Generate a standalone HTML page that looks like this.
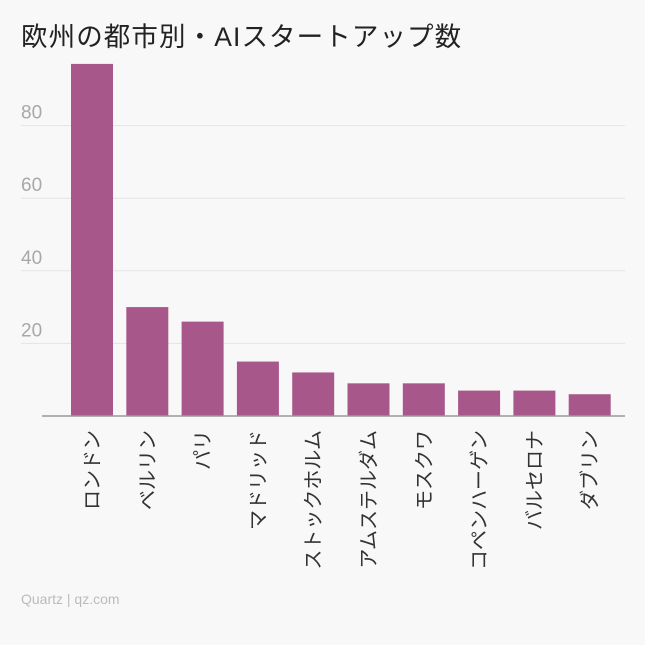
<!DOCTYPE html>
<html><head><meta charset="utf-8"><style>
body{margin:0;background:#f8f8f8;}
svg{display:block;font-family:"Liberation Sans","Noto Sans CJK JP",sans-serif;}
</style></head><body>
<svg width="645" height="645">
<rect width="645" height="645" fill="#f8f8f8"/>
<text x="21" y="46" font-size="26.5" letter-spacing="1.1" fill="#222">欧州の都市別・AIスタートアップ数</text>
<g id="grid"></g><g id="bars"></g><g id="labels"></g>
<line x1="42" y1="416" x2="625" y2="416" stroke="#999" stroke-width="1.5"/>
<text x="21" y="604" font-size="14" fill="#bbb">Quartz | qz.com</text>
</svg>
<script>
const categories=["ロンドン","ベルリン","パリ","マドリッド","ストックホルム","アムステルダム","モスクワ","コペンハーゲン","バルセロナ","ダブリン"];
const values=[97,30,26,15,12,9,9,7,7,6];
const ticks=[20,40,60,80];
const NS="http://www.w3.org/2000/svg";
const y=v=>416-v*3.63;
const x=i=>71+i*55.3;
const grid=document.getElementById('grid'),bars=document.getElementById('bars'),labels=document.getElementById('labels');
ticks.forEach(t=>{
 const l=document.createElementNS(NS,'line');
 l.setAttribute('x1',21);l.setAttribute('x2',625);l.setAttribute('y1',y(t));l.setAttribute('y2',y(t));
 l.setAttribute('stroke','#e4e4e4');l.setAttribute('stroke-width','1');
 
 
 grid.appendChild(l);
 const tx=document.createElementNS(NS,'text');
 tx.setAttribute('x',21);tx.setAttribute('y',y(t)-7);tx.setAttribute('font-size','19');tx.setAttribute('fill','#a8a8a8');
 tx.textContent=t;
 
 
 grid.appendChild(tx);
});
values.forEach((v,i)=>{
 const r=document.createElementNS(NS,'rect');
 r.setAttribute('x',x(i));r.setAttribute('width',42);r.setAttribute('y',y(v));r.setAttribute('height',416-y(v));
 r.setAttribute('fill','#a8578a');
 
 
 bars.appendChild(r);
 const t=document.createElementNS(NS,'text');
 const cx=x(i)+21;
 t.setAttribute('transform','translate('+(cx+7)+',430) rotate(-90)');
 t.setAttribute('text-anchor','end');
 t.setAttribute('font-size','20');t.setAttribute('fill','#333');
 t.textContent=categories[i];
 
 
 labels.appendChild(t);
});
</script>
</body></html>
